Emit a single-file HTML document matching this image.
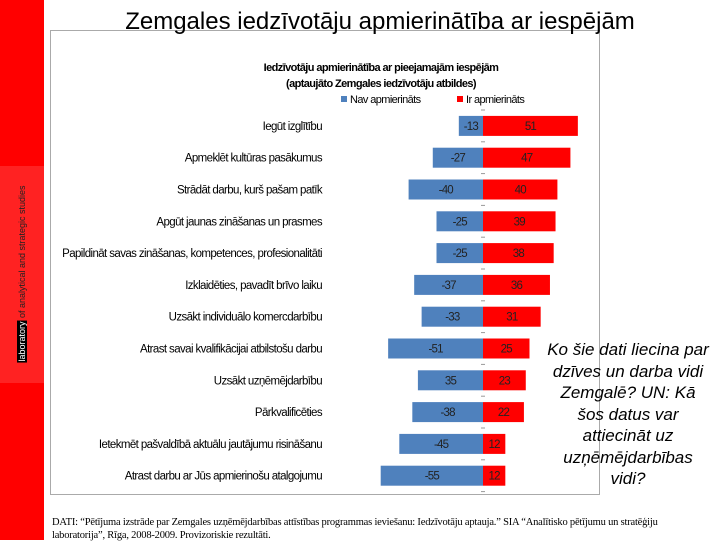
<!DOCTYPE html>
<html><head><meta charset="utf-8"><style>
body{margin:0;width:720px;height:540px;background:#fff;position:relative;overflow:hidden;font-family:"Liberation Sans",sans-serif}
.abs{position:absolute}
</style></head><body>
<div class="abs" style="left:0;top:0;width:44px;height:540px;background:#ff0000"></div>
<div class="abs" style="left:0;top:166px;width:44px;height:217px;background:#ff2222"></div>
<div class="abs" style="left:22px;top:274px;transform:translate(-50%,-50%) rotate(-90deg);white-space:nowrap;font-size:9px;color:#222"><span style="background:#000;color:#fff;padding:0 1px">laboratory</span> of analytical and strategic studies</div>
<div class="abs" style="left:50px;top:30px;width:548px;height:463px;border:1px solid #aaa"></div>
<div class="abs" style="left:60px;top:8px;width:640px;text-align:center;font-size:24px;color:#000;background:transparent">Zemgales iedzīvotāju apmierinātība ar iespējām</div>
<svg class="abs" style="left:0;top:0" width="720" height="540" id="chart">
<text x="381" y="71" text-anchor="middle" font-size="11" font-weight="bold" letter-spacing="-0.6">Iedzīvotāju apmierinātība ar pieejamajām iespējām</text>
<text x="381" y="87" text-anchor="middle" font-size="11" font-weight="bold" letter-spacing="-0.6">(aptaujāto Zemgales iedzīvotāju atbildes)</text>
<rect x="341" y="96" width="6" height="6" fill="#4f81bd"/>
<text x="350" y="103" font-size="11" letter-spacing="-0.6">Nav apmierināts</text>
<rect x="457" y="96" width="6" height="6" fill="#ff0000"/>
<text x="466" y="103" font-size="11" letter-spacing="-0.6">Ir apmierināts</text>
</svg>
<div class="abs" style="left:530px;top:339px;width:196px;text-align:center;font-style:italic;font-size:17px;line-height:21.5px;white-space:nowrap">Ko šie dati liecina par<br>dzīves un darba vidi<br>Zemgalē? UN: Kā<br>šos datus var<br>attiecināt uz<br>uzņēmējdarbības<br>vidi?</div>
<div class="abs" style="left:52px;top:516px;width:660px;font-family:'Liberation Serif',serif;font-size:10.5px;line-height:13px;white-space:nowrap;letter-spacing:-0.2px">DATI: “Pētījuma izstrāde par Zemgales uzņēmējdarbības attīstības programmas ieviešanu: Iedzīvotāju aptauja.” SIA “Analītisko pētījumu un stratēģiju<br>laboratorija”, Rīga, 2008-2009. Provizoriskie rezultāti.</div>
<script>
const categories=["Iegūt izglītību","Apmeklēt kultūras pasākumus","Strādāt darbu, kurš pašam patīk","Apgūt jaunas zināšanas un prasmes","Papildināt savas zināšanas, kompetences, profesionalitāti","Izklaidēties, pavadīt brīvo laiku","Uzsākt individuālo komercdarbību","Atrast savai kvalifikācijai atbilstošu darbu","Uzsākt uzņēmējdarbību","Pārkvalificēties","Ietekmēt pašvaldībā aktuālu jautājumu risināšanu","Atrast darbu ar Jūs apmierinošu atalgojumu"];
const negValues=[-13,-27,-40,-25,-25,-37,-33,-51,-35,-38,-45,-55];
const posValues=[51,47,40,39,38,36,31,25,23,22,12,12];
const negLabels=["-13","-27","-40","-25","-25","-37","-33","-51","35","-38","-45","-55"];
const NS="http://www.w3.org/2000/svg",svg=document.getElementById('chart');
const x0=483,k=1.86,top0=110,step=31.8,bh=20;
const xs=v=>x0+v*k, yc=i=>top0+step*(i+0.5);
function mk(t,a){const e=document.createElementNS(NS,t);for(const n in a)e.setAttribute(n,a[n]);svg.appendChild(e);return e;}
for(let i=0;i<=categories.length;i++){
 const t=mk('line',{x1:x0-2,x2:x0+2,y1:top0+step*i,y2:top0+step*i,stroke:'#999'});
 
 
}
categories.forEach((c,i)=>{
 const y=yc(i);
 const l=mk('text',{x:322,y:y+4,'text-anchor':'end','font-size':11.5,'letter-spacing':'-0.6'});l.textContent=c;
 
 
 const n=mk('rect',{x:xs(negValues[i]),y:y-bh/2,width:x0-xs(negValues[i]),height:bh,fill:'#4f81bd'});
 
 
 const p=mk('rect',{x:x0,y:y-bh/2,width:xs(posValues[i])-x0,height:bh,fill:'#ff0000'});
 
 
 const nt=mk('text',{x:(xs(negValues[i])+x0)/2,y:y+4,'text-anchor':'middle','font-size':11.5,'letter-spacing':'-0.8',fill:'#222'});nt.textContent=negLabels[i];
 
 
 const pt=mk('text',{x:(xs(posValues[i])+x0)/2,y:y+4,'text-anchor':'middle','font-size':11.5,'letter-spacing':'-0.8',fill:'#222'});pt.textContent=posValues[i];
 
 
});
</script>
</body></html>
